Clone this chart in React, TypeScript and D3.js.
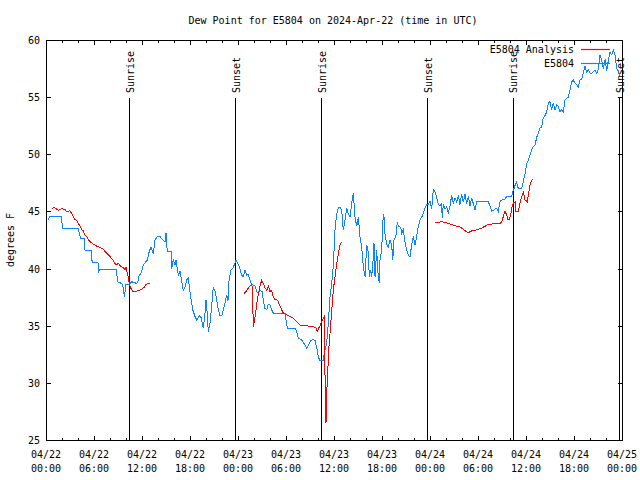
import React from 'react';
import * as d3 from 'd3';

// ---- data (hours since 2024-04-22 00:00 UTC, dew point °F) ----
const BASE_MS = Date.UTC(2024, 3, 22, 0, 0, 0);

const xTickHours = [0, 6, 12, 18, 24, 30, 36, 42, 48, 54, 60, 66, 72];
const xTickDates = ['04/22', '04/22', '04/22', '04/22', '04/23', '04/23', '04/23', '04/23', '04/24', '04/24', '04/24', '04/24', '04/25'];
const xTickTimes = ['00:00', '06:00', '12:00', '18:00', '00:00', '06:00', '12:00', '18:00', '00:00', '06:00', '12:00', '18:00', '00:00'];
const yTicks = [25, 30, 35, 40, 45, 50, 55, 60];

const sunriseHours = [10.42, 34.38, 58.35];
const sunsetHours = [23.63, 47.65, 71.68];

const title = 'Dew Point for E5804 on 2024-Apr-22 (time in UTC)';
const yLabel = 'degrees F';
const seriesNames = ['E5804 Analysis', 'E5804'];

const obs: [number, number][] = [
  [0.25, 44.25], [0.5, 44.6], [1.96, 44.6], [2.04, 43.5], [4.04, 43.5], [4.16, 43.1], [4.34, 42.6], [4.79, 42.6],
  [4.88, 41.6], [5.63, 41.6], [5.71, 40.75], [5.91, 40.5], [6.5, 40.5], [6.54, 39.6], [6.66, 39.9], [8.84, 39.9],
  [8.91, 38.85], [9.46, 38.7], [9.66, 38.3], [9.79, 37.5], [10.0, 38.6], [10.34, 38.6], [10.71, 38.85], [11.34, 38.7],
  [11.54, 39.0], [11.63, 39.4], [11.88, 39.6], [12.16, 40.3], [12.66, 40.75], [12.91, 41.5], [13.13, 41.9], [13.41, 41.3],
  [13.63, 42.5], [13.91, 42.8], [14.25, 42.8], [14.59, 42.5], [14.88, 42.3], [15.0, 43.1], [15.16, 41.5], [15.63, 41.5],
  [15.71, 40.0], [15.91, 40.75], [16.13, 40.3], [16.25, 40.75], [16.54, 39.4], [16.75, 39.8], [17.16, 38.1], [17.38, 38.4],
  [17.59, 39.0], [17.79, 39.15], [18.09, 37.5], [18.34, 36.4], [18.63, 35.8], [18.84, 35.5], [19.16, 35.9], [19.38, 35.7],
  [19.66, 34.8], [19.88, 36.1], [20.0, 37.25], [20.13, 36.3], [20.29, 34.5], [20.5, 35.2], [20.71, 36.7], [20.91, 38.4],
  [21.13, 38.0], [21.34, 37.25], [21.54, 36.4], [21.75, 35.9], [22.0, 35.9], [22.38, 37.0], [22.59, 37.7], [22.75, 37.2],
  [22.88, 39.0], [23.13, 39.9], [23.41, 40.1], [23.75, 40.75], [23.96, 40.45], [24.25, 40.0], [24.46, 39.4], [24.66, 39.3],
  [24.88, 39.9], [25.09, 39.4], [25.25, 39.5], [25.5, 39.0], [25.71, 38.6], [26.13, 38.5], [26.34, 38.0], [26.54, 37.8],
  [26.75, 38.1], [27.0, 38.0], [27.16, 37.25], [27.38, 36.5], [27.59, 36.4], [27.79, 36.9], [28.0, 36.8], [28.21, 36.4],
  [28.41, 36.1], [29.88, 36.1], [30.0, 35.5], [30.16, 34.8], [31.13, 34.8], [31.34, 34.5], [31.54, 33.9], [31.96, 33.75],
  [32.38, 33.3], [32.59, 33.0], [32.75, 33.2], [33.0, 33.6], [33.21, 33.75], [33.41, 33.8], [33.63, 33.7], [33.75, 33.3],
  [33.91, 32.9], [34.04, 32.3], [34.25, 31.9], [34.46, 32.0], [34.66, 32.0], [34.79, 32.6], [35.0, 33.2], [35.16, 34.0],
  [35.34, 35.8], [35.5, 37.5], [35.71, 38.7], [35.91, 40.2], [36.13, 43.4], [36.34, 44.8], [36.54, 45.3], [36.75, 45.4],
  [36.96, 45.1], [37.16, 43.4], [37.38, 44.25], [37.59, 45.3], [37.79, 44.8], [38.0, 44.5], [38.21, 45.7], [38.41, 46.6],
  [38.63, 44.5], [38.84, 43.7], [39.04, 44.5], [39.25, 42.8], [39.46, 41.9], [39.66, 40.2], [39.88, 39.3], [40.09, 42.1],
  [40.29, 41.4], [40.41, 39.3], [40.59, 39.9], [40.71, 39.3], [40.84, 40.2], [41.0, 42.2], [41.13, 39.3], [41.34, 41.6],
  [41.46, 39.9], [41.66, 38.7], [41.75, 40.75], [41.96, 41.6], [42.16, 44.8], [42.31, 44.3], [42.38, 43.0], [42.59, 42.1],
  [42.79, 41.9], [43.0, 42.5], [43.21, 42.1], [43.34, 40.75], [43.5, 42.5], [43.75, 42.9], [43.91, 44.1], [44.04, 43.7],
  [44.34, 43.6], [44.46, 43.1], [44.66, 43.4], [44.88, 42.35], [45.09, 41.6], [45.29, 41.2], [45.5, 41.0], [45.71, 42.1],
  [45.91, 42.8], [46.13, 42.1], [46.25, 42.5], [46.54, 43.7], [46.75, 44.25], [46.96, 44.5], [47.16, 44.8], [47.38, 45.3],
  [47.59, 45.6], [47.81, 45.6], [48.0, 45.9], [48.21, 45.2], [48.41, 46.9], [48.63, 46.7], [48.84, 46.2], [49.04, 45.6],
  [49.25, 45.5], [49.44, 45.7], [49.54, 44.4], [49.66, 45.6], [49.88, 45.2], [50.09, 45.4], [50.29, 44.9], [50.5, 45.5],
  [50.71, 46.4], [50.91, 45.7], [51.13, 46.2], [51.34, 45.85], [51.54, 46.4], [51.75, 45.6], [51.96, 46.5], [52.16, 45.8],
  [52.38, 46.5], [52.59, 45.7], [52.79, 46.3], [53.0, 45.5], [53.21, 46.2], [53.41, 45.7], [53.63, 45.1], [53.84, 45.85],
  [55.29, 45.85], [55.5, 45.45], [55.71, 45.0], [56.34, 45.3], [56.54, 45.0], [56.75, 45.85], [56.96, 46.0], [57.38, 46.1],
  [57.59, 46.3], [58.21, 46.35], [58.34, 46.7], [58.5, 47.0], [58.79, 47.6], [59.04, 47.0], [59.46, 47.0], [59.66, 47.6],
  [59.88, 48.3], [60.09, 49.2], [60.29, 49.5], [60.71, 50.4], [60.91, 50.7], [61.13, 50.8], [61.34, 51.5], [61.54, 51.8],
  [61.75, 52.3], [61.96, 52.4], [62.16, 53.2], [62.38, 53.4], [62.59, 53.7], [62.79, 54.5], [63.0, 54.6], [63.21, 53.9],
  [63.41, 54.5], [63.63, 53.9], [63.84, 54.35], [64.04, 54.2], [64.25, 53.7], [64.46, 53.9], [64.66, 53.7], [64.88, 54.75],
  [65.09, 54.9], [65.29, 55.0], [65.5, 55.6], [65.71, 56.35], [65.91, 56.5], [66.13, 56.2], [66.34, 56.1], [66.54, 55.9],
  [66.75, 56.5], [66.96, 56.6], [67.38, 57.7], [67.59, 57.2], [67.79, 57.4], [68.0, 57.1], [68.21, 57.1], [68.41, 57.2],
  [68.63, 57.4], [68.84, 57.1], [69.04, 57.4], [69.25, 58.7], [69.46, 58.2], [69.66, 57.5], [69.88, 58.3], [70.09, 57.3],
  [70.29, 58.2], [70.5, 58.9], [70.71, 58.7], [70.91, 59.1], [71.13, 58.7], [71.34, 57.5], [71.54, 57.2], [71.75, 56.9],
];

const analysisDay1: [number, number][] = [
  [0.71, 45.2], [0.91, 45.35], [1.13, 45.3], [1.54, 45.1], [1.96, 45.25], [2.38, 45.15], [2.59, 45.0], [3.0, 45.05],
  [3.21, 44.8], [3.41, 44.55], [3.63, 44.3], [3.84, 44.2], [4.04, 43.95], [4.25, 43.7], [4.46, 43.4], [4.66, 43.3],
  [4.88, 42.9], [5.09, 42.8], [5.29, 42.55], [5.5, 42.35], [5.91, 42.15], [6.34, 41.97], [6.75, 41.85], [7.16, 41.7],
  [7.38, 41.5], [7.59, 41.35], [8.0, 41.05], [8.41, 40.7], [8.75, 40.3], [9.04, 40.45], [9.34, 40.2], [9.66, 40.1],
  [9.88, 39.9], [10.0, 40.1], [10.16, 39.6], [10.29, 39.2], [10.41, 38.7], [10.59, 38.3], [10.84, 38.0], [11.13, 38.0],
  [11.54, 38.07], [11.96, 38.2], [12.25, 38.35], [12.5, 38.6], [12.79, 38.7], [13.0, 38.7],
];

const analysisDay2: [number, number][] = [
  [24.75, 37.8], [25.0, 38.0], [25.29, 38.3], [25.5, 38.45], [25.71, 38.6], [25.81, 38.3], [25.91, 34.9], [26.0, 35.2],
  [26.13, 35.8], [26.25, 36.4], [26.41, 37.25], [26.54, 37.8], [26.75, 38.45], [26.96, 39.0], [27.16, 38.7], [27.38, 38.3],
  [27.59, 38.1], [27.79, 38.45], [28.0, 38.0], [28.21, 38.1], [28.41, 37.5], [28.63, 37.25], [28.84, 37.3], [29.04, 37.1],
  [29.25, 36.7], [29.46, 36.4], [29.66, 36.1], [30.09, 35.95], [30.5, 35.8], [30.91, 35.65], [31.34, 35.35], [31.75, 35.05],
  [32.16, 35.0], [32.59, 35.0], [33.0, 34.95], [33.41, 34.9], [33.75, 34.8], [33.91, 34.5], [34.09, 34.8], [34.25, 35.0],
  [34.46, 35.35], [34.66, 35.65], [34.79, 35.8], [34.88, 30.55], [34.96, 27.3], [35.0, 26.5], [35.09, 29.1], [35.21, 30.85],
  [35.34, 32.9], [35.5, 34.3], [35.71, 36.25], [35.91, 38.1], [36.13, 39.3], [36.34, 40.45], [36.54, 41.3], [36.75, 42.05],
  [36.96, 42.35],
];

const analysisDay3: [number, number][] = [
  [48.63, 44.05], [49.04, 44.05], [49.46, 44.1], [49.88, 44.05], [50.09, 44.0], [50.5, 43.9], [50.91, 43.8], [51.34, 43.7],
  [51.75, 43.65], [52.16, 43.45], [52.59, 43.2], [52.79, 43.15], [53.21, 43.3], [53.63, 43.35], [54.04, 43.45], [54.46, 43.55],
  [54.88, 43.7], [55.29, 43.9], [55.71, 43.9], [56.13, 43.95], [56.75, 43.95], [56.96, 44.1], [57.16, 44.55], [57.38, 45.0],
  [57.59, 44.7], [57.71, 44.3], [57.91, 44.3], [58.09, 44.7], [58.21, 45.3], [58.41, 45.7], [58.63, 45.85], [58.75, 45.0],
  [59.04, 45.0], [59.25, 45.7], [59.46, 46.3], [59.66, 46.7], [59.88, 46.0], [60.16, 45.85], [60.34, 46.6], [60.5, 47.3],
  [60.71, 47.75], [60.91, 47.8],
];

const RED = '#ff0000';
const BLUE = '#0a84ff';
const FONT = '"DejaVu Sans Mono", "Liberation Mono", monospace';

const hToDate = (h: number) => new Date(BASE_MS + h * 3600 * 1000);

export default function App() {
  const width = 640;
  const height = 480;
  const left = 46;
  const right = 622;
  const top = 40;
  const bottom = 440;

  const x = d3.scaleUtc().domain([hToDate(0), hToDate(72)]).range([left, right]);
  const y = d3.scaleLinear().domain([25, 60]).range([bottom, top]);

  const lineGen = d3
    .line<[number, number]>()
    .x((d) => x(hToDate(d[0])))
    .y((d) => y(d[1]));

  const minorHours = d3.range(0, 73, 2).filter((h) => h % 6 !== 0);
  const px = (v: number) => Math.round(v) + 0.5;

  return (
    <svg
      width={width}
      height={height}
      style={{ position: 'absolute', left: 0, top: 0, background: '#fff' }}
      fontFamily={FONT}
      fontSize={10}
    >
      <rect x={0} y={0} width={width} height={height} fill="#fff" />
      <text x={333} y={24} textAnchor="middle" fill="#000">
        {title}
      </text>

      {/* frame */}
      <rect
        x={left + 0.5}
        y={top + 0.5}
        width={right - left}
        height={bottom - top}
        fill="none"
        stroke="#000"
        strokeWidth={1}
        shapeRendering="crispEdges"
      />

      {/* y ticks */}
      {yTicks.map((v) => (
        <g key={'y' + v} shapeRendering="crispEdges">
          <line x1={left} x2={left + 5} y1={px(y(v))} y2={px(y(v))} stroke="#000" />
          <line x1={right + 1} x2={right - 4} y1={px(y(v))} y2={px(y(v))} stroke="#000" />
          <text x={40} y={y(v) + 4} textAnchor="end" fill="#000">
            {v}
          </text>
        </g>
      ))}

      {/* x ticks */}
      {xTickHours.map((h, i) => (
        <g key={'x' + h} shapeRendering="crispEdges">
          <line x1={px(x(hToDate(h)))} x2={px(x(hToDate(h)))} y1={bottom + 1} y2={bottom - 4} stroke="#000" />
          <line x1={px(x(hToDate(h)))} x2={px(x(hToDate(h)))} y1={top} y2={top + 5} stroke="#000" />
          <text x={x(hToDate(h))} y={458} textAnchor="middle" fill="#000">
            {xTickDates[i]}
          </text>
          <text x={x(hToDate(h))} y={472} textAnchor="middle" fill="#000">
            {xTickTimes[i]}
          </text>
        </g>
      ))}
      {minorHours.map((h) => (
        <g key={'m' + h} shapeRendering="crispEdges">
          <line x1={px(x(hToDate(h)))} x2={px(x(hToDate(h)))} y1={bottom + 1} y2={bottom - 2} stroke="#000" />
          <line x1={px(x(hToDate(h)))} x2={px(x(hToDate(h)))} y1={top} y2={top + 3} stroke="#000" />
        </g>
      ))}

      <text transform={`translate(14,240) rotate(-90)`} textAnchor="middle" fill="#000">
        {yLabel}
      </text>

      {/* sunrise / sunset */}
      {[...sunriseHours.map((h) => ({ h, label: 'Sunrise' })), ...sunsetHours.map((h) => ({ h, label: 'Sunset' }))].map(
        (s) => {
          const sx = x(hToDate(s.h));
          return (
            <g key={s.label + s.h}>
              <line
                x1={px(sx)}
                x2={px(sx)}
                y1={98}
                y2={bottom}
                stroke="#000"
                strokeWidth={1}
                shapeRendering="crispEdges"
              />
              <text transform={`translate(${sx + 4.5},93) rotate(-90)`} textAnchor="start" fill="#000">
                {s.label}
              </text>
            </g>
          );
        }
      )}

      {/* series */}
      <path d={lineGen(obs) || ''} fill="none" stroke={BLUE} strokeWidth={1} shapeRendering="crispEdges" />
      {[analysisDay1, analysisDay2, analysisDay3].map((seg, i) => (
        <path
          key={'a' + i}
          d={lineGen(seg) || ''}
          fill="none"
          stroke={RED}
          strokeWidth={1}
          shapeRendering="crispEdges"
        />
      ))}

      {/* legend */}
      <g>
        <text x={574} y={53} textAnchor="end" fill="#000">
          {seriesNames[0]}
        </text>
        <path d="M581,49.5H610" stroke={RED} strokeWidth={1.2} fill="none" />
        <text x={574} y={67} textAnchor="end" fill="#000">
          {seriesNames[1]}
        </text>
        <path d="M581,63.5H610" stroke={BLUE} strokeWidth={1.2} fill="none" />
      </g>
    </svg>
  );
}
